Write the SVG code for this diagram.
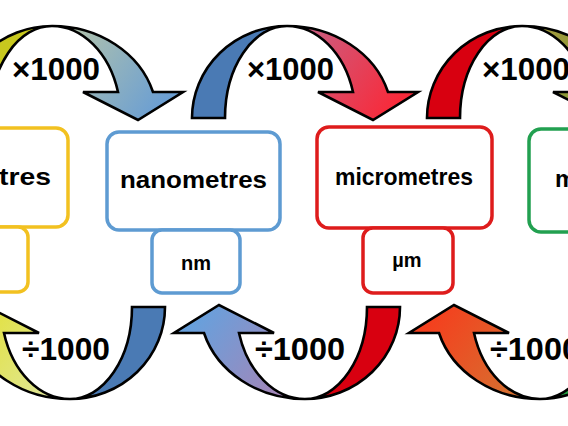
<svg xmlns="http://www.w3.org/2000/svg" xmlns:xlink="http://www.w3.org/1999/xlink" width="568" height="426" viewBox="0 0 568 426">
<style>
.arr{stroke:#000;stroke-width:2.6;stroke-linejoin:miter}
.big{fill:#fff;stroke-width:3.5}
.lbl{font-family:"Liberation Sans",Arial,sans-serif;font-weight:bold;font-size:31px;fill:#000}
.name{font-family:"Liberation Sans",Arial,sans-serif;font-weight:bold;font-size:24px;fill:#000}
.unit{font-family:"Liberation Sans",Arial,sans-serif;font-weight:bold;font-size:20px;fill:#000}
</style>
<defs>
<path id="tail" d="M -95 92 A 95 92 0 0 1 0 0 A 62 92 0 0 0 -62 92 Z"/>
<path id="head" d="M 0 0 A 105 92 0 0 1 101 66 L 131 66 L 86 94 L 31 66 L 66 66 A 69 92 0 0 0 0 0 Z"/>
<linearGradient id="gA" x1="0" y1="0" x2="1" y2="0.5"><stop offset="0" stop-color="#bcc8a6"/><stop offset="1" stop-color="#6c9fd2"/></linearGradient>
<linearGradient id="gB" x1="0" y1="0" x2="1" y2="0.5"><stop offset="0" stop-color="#c4668c"/><stop offset="1" stop-color="#f82a3a"/></linearGradient>
<linearGradient id="gC" x1="0" y1="0" x2="1" y2="0.5"><stop offset="0" stop-color="#a89a40"/><stop offset="1" stop-color="#7a9a30"/></linearGradient>
<linearGradient id="gD" x1="0" y1="0" x2="1" y2="0.5"><stop offset="0" stop-color="#e0e8a8"/><stop offset="1" stop-color="#e2e030"/></linearGradient>
<linearGradient id="gE" x1="0" y1="0" x2="1" y2="0.5"><stop offset="0" stop-color="#b080b0"/><stop offset="1" stop-color="#68a0dc"/></linearGradient>
<linearGradient id="gF" x1="0" y1="0" x2="1" y2="0.5"><stop offset="0" stop-color="#d07a34"/><stop offset="1" stop-color="#f4401e"/></linearGradient>
</defs>
<rect width="568" height="426" fill="#fff"/>
<g id="connectors">
<g id="arrowA" transform="translate(52,26)"><use xlink:href="#tail" href="#tail" class="arr" fill="#c8c81e"/><use xlink:href="#head" href="#head" class="arr" fill="url(#gA)"/></g>
<g id="arrowB" transform="translate(287,26)"><use xlink:href="#tail" href="#tail" class="arr" fill="#4a7ab4"/><use xlink:href="#head" href="#head" class="arr" fill="url(#gB)"/></g>
<g id="arrowC" transform="translate(522,26)"><use xlink:href="#tail" href="#tail" class="arr" fill="#d80010"/><use xlink:href="#head" href="#head" class="arr" fill="url(#gC)"/></g>
<g id="arrowD" transform="translate(70,399) rotate(180)"><use xlink:href="#tail" href="#tail" class="arr" fill="#4a7ab4"/><use xlink:href="#head" href="#head" class="arr" fill="url(#gD)"/></g>
<g id="arrowE" transform="translate(305,399) rotate(180)"><use xlink:href="#tail" href="#tail" class="arr" fill="#d80010"/><use xlink:href="#head" href="#head" class="arr" fill="url(#gE)"/></g>
<g id="arrowF" transform="translate(540,399) rotate(180)"><use xlink:href="#tail" href="#tail" class="arr" fill="#20a040"/><use xlink:href="#head" href="#head" class="arr" fill="url(#gF)"/></g>
<text class="lbl" x="12" y="80" textLength="88" lengthAdjust="spacingAndGlyphs">×1000</text>
<text class="lbl" x="247" y="80" textLength="87" lengthAdjust="spacingAndGlyphs">×1000</text>
<text class="lbl" x="482" y="80" textLength="88" lengthAdjust="spacingAndGlyphs">×1000</text>
<text class="lbl" x="22" y="360" textLength="88" lengthAdjust="spacingAndGlyphs">÷1000</text>
<text class="lbl" x="255" y="360" textLength="90" lengthAdjust="spacingAndGlyphs">÷1000</text>
<text class="lbl" x="490" y="360" textLength="90" lengthAdjust="spacingAndGlyphs">÷1000</text>
</g>
<g id="node-left">
<rect class="big" x="-30" y="128" width="98" height="99" rx="12" stroke="#f2c120"/>
<rect class="big" x="-40" y="227" width="68" height="65" rx="10" stroke="#f2c120"/>
<text class="name" x="-1" y="185" textLength="52" lengthAdjust="spacingAndGlyphs">tres</text>
</g>
<g id="node-nano">
<rect class="big" x="107" y="132" width="173" height="98" rx="12" stroke="#5e9bd2"/>
<rect class="big" x="152" y="230" width="88" height="63" rx="10" stroke="#5e9bd2"/>
<text class="name" x="120" y="188" textLength="147" lengthAdjust="spacingAndGlyphs">nanometres</text>
<text class="unit" x="196" y="270" text-anchor="middle">nm</text>
</g>
<g id="node-micro">
<rect class="big" x="317" y="127" width="175" height="101" rx="12" stroke="#de1c1c"/>
<rect class="big" x="363" y="228" width="90" height="65" rx="10" stroke="#de1c1c"/>
<text class="name" x="335" y="185" textLength="138" lengthAdjust="spacingAndGlyphs">micrometres</text>
<text class="unit" x="407" y="267" text-anchor="middle">µm</text>
</g>
<g id="node-right">
<rect class="big" x="529" y="129" width="80" height="103" rx="12" stroke="#22a050"/>
<text class="name" x="555" y="187">m</text>
</g>
</svg>
